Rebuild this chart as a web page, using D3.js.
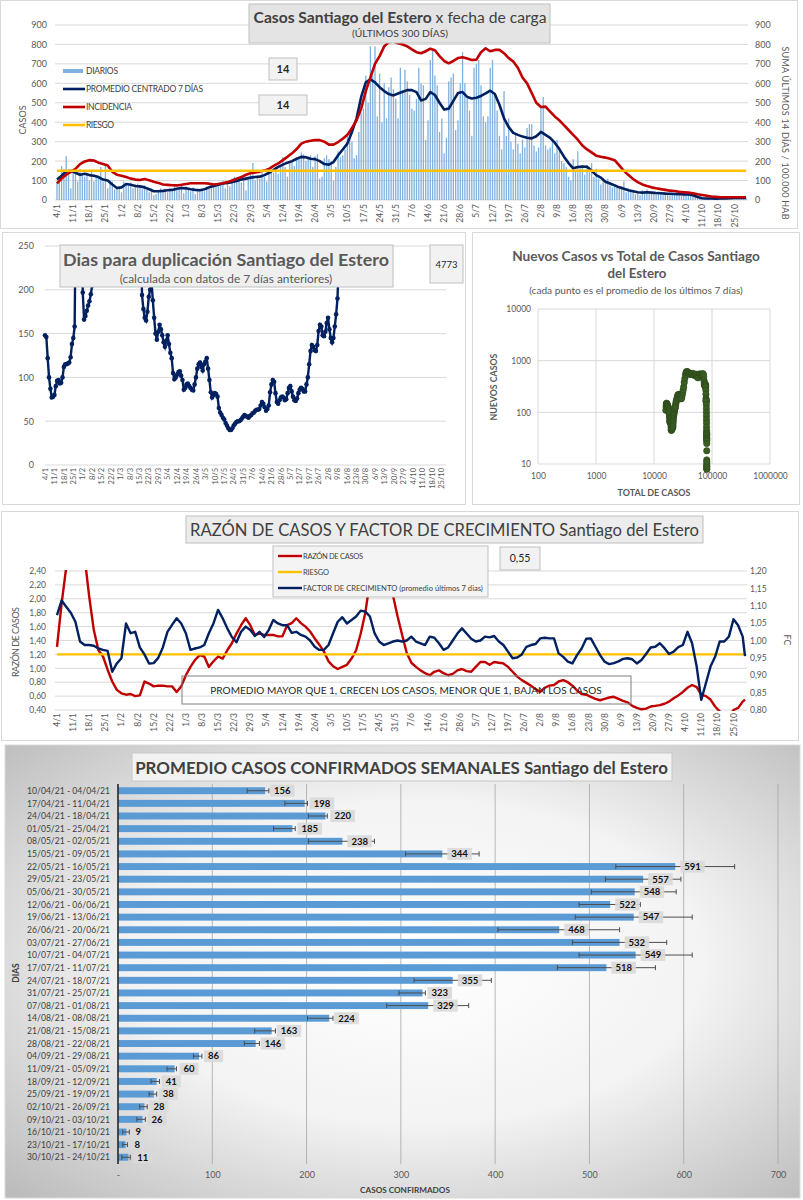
<!DOCTYPE html>
<html>
<head>
<meta charset="utf-8">
<script src="https://cdn.jsdelivr.net/npm/d3@7"></script>
<style>
body { margin: 0; background: #fff; }
svg { display: block; }
</style>
</head>
<body>
<script>
// ---------- data ----------
const weekLabels = ['4/1','11/1','18/1','25/1','1/2','8/2','15/2','22/2','1/3','8/3','15/3','22/3','29/3','5/4','12/4','19/4','26/4','3/5','10/5','17/5','24/5','31/5','7/6','14/6','21/6','28/6','5/7','12/7','19/7','26/7','2/8','9/8','16/8','23/8','30/8','6/9','13/9','20/9','27/9','4/10','11/10','18/10','25/10'];

// daily cases, day 0 = 4/1
const daily = [
  95,110,175,160,225,130,60, 150,140,95,160,130,120,140, 100,155,95,115,120,170,95,
  180,60,100,95,55,65,70, 40,95,85,75,90,60,80, 85,70,55,75,60,40,60,
  25,30,50,60,45,55,40, 60,45,70,50,55,75,35, 70,60,45,65,30,55,50,
  50,45,70,60,75,80,85, 90,75,100,60,95,70,110, 120,95,105,90,115,50,105,
  130,190,100,125,110,140,120, 95,160,150,140,170,135,180, 220,170,120,190,200,175,210,
  215,245,235,200,215,230,170, 225,235,110,120,215,230,210, 200,100,170,250,220,230,260,
  340,345,300,215,230,350,450, 470,640,500,790,640,790,430, 650,400,600,420,580,630,570,
  520,420,680,560,670,610,540, 470,460,520,680,600,590,310, 410,720,770,640,590,350,420,
  240,320,610,630,650,360,410, 600,760,600,520,460,330,680, 700,720,590,430,400,430,680,
  720,550,460,330,260,560,330, 420,300,260,340,290,240,310, 270,370,390,390,280,250,270,
  480,530,280,260,270,300,240, 310,250,200,190,170,120,100, 210,150,250,170,180,130,180,
  170,190,120,160,110,80,100, 90,110,75,65,80,70,60, 70,95,40,60,45,50,30,
  35,25,50,45,55,40,35, 40,30,45,35,25,40,35, 35,30,25,40,30,20,35,
  30,35,25,20,15,10,8, 10,8,6,12,5,9,7, 8,10,6,9,7,11,8,
  12,9,14,10,11,13
];

// days at which the line series are read (every 2 days + last day)
const lineDays = [...d3.range(0, 300, 2), 299];

const promedio7 = [
  105,125,148,150,140,130,135,128,125,118,
  105,100,80,62,65,82,78,72,70,65,
  55,45,45,47,50,52,58,62,60,55,
  52,50,55,65,72,78,85,88,92,98,
  105,110,115,118,120,128,140,155,170,182,
  192,200,212,222,220,212,210,200,185,182,
  195,230,260,290,350,420,530,605,620,605,
  580,560,545,538,548,557,565,565,555,512,
  520,555,540,500,465,470,510,550,555,530,
  522,526,535,548,562,545,490,420,375,345,
  335,326,320,317,328,350,335,320,295,262,
  223,190,163,170,172,171,150,128,115,94,
  85,75,65,58,50,45,40,38,40,38,
  36,35,33,32,31,30,29,28,24,15,
  9,8,8,7,8,8,9,10,11,11,
  11
];

const incidencia = [
  85,110,130,145,160,185,198,205,203,192,
  185,178,145,130,125,118,110,105,103,108,
  102,94,88,80,78,76,75,78,82,86,
  86,86,86,84,80,82,86,92,100,110,
  118,130,138,142,146,152,160,175,188,205,
  222,240,262,290,300,305,308,308,300,285,
  285,298,315,335,370,410,470,560,630,700,
  740,790,812,815,806,800,790,775,760,755,
  765,778,770,740,715,703,715,730,734,728,
  720,722,760,780,765,772,772,755,730,712,
  680,630,600,550,500,478,480,455,430,410,
  385,360,335,310,280,260,245,228,222,218,
  212,205,178,150,128,108,92,80,72,65,
  60,56,52,48,46,42,40,38,35,30,
  26,22,18,16,14,14,14,14,14,14,
  14
];
const riesgoCasos = 150;
const casosTicks = [0,100,200,300,400,500,600,700,800,900];

// doubling days, daily from 4/1
const duplicacion = [
  148,146,122,100,87,77,78,80,90,96,
  97,93,94,100,112,115,115,116,117,123,
  138,145,158,320,480,650,520,380,197,166,
  170,176,182,187,195,205,380,520,700,900,
  1200,1500,1800,2100,1900,1700,1500,1300,1100,1000,
  950,900,850,800,760,720,680,640,600,560,
  520,480,450,420,390,360,340,320,300,280,
  265,262,194,178,168,165,175,192,200,210,
  188,168,150,143,152,160,155,148,140,135,
  142,148,138,128,122,105,98,100,103,106,
  107,102,97,86,88,92,93,90,88,86,
  85,92,100,110,115,117,112,108,115,118,
  122,110,97,83,77,80,82,81,78,65,
  60,57,54,52,48,45,42,40,40,42,
  45,47,49,50,50,51,53,55,57,56,
  55,54,56,57,59,60,62,63,63,64,
  68,72,70,66,62,64,68,83,92,97,
  95,82,72,70,74,77,78,77,74,75,
  82,88,90,84,78,74,73,76,82,86,
  88,87,84,84,92,100,115,130,137,135,
  131,130,137,153,160,158,148,147,152,162,
  168,155,145,140,145,158,172,190,232,4773
];
const dupTicks = [0,50,100,150,200,250];

// scatter: total cases vs new cases (7-day mean)
const scatterTotal = [
  16000,16150,16300,16450,16600,16750,16900,17050,17200,17350,17500,17650,17800,17950,18100,18250,18400,18550,18700,18800,18900,19000,19100,19200,19300,19400,
  19500,19600,19700,19800,19900,20000,20100,20200,20300,20400,20500,20600,20700,20800,
  20900,21000,21100,21200,21300,21400,21550,21700,21850,22000,22200,22400,22600,22800,
  23000,23250,23500,23800,24100,24400,24800,25200,25600,26000,26500,27000,27500,28000,28500,29000,29500,30000,30600,31200,
  31800,32500,33200,34000,34800,35700,36600,37600,38600,39600,40600,41600,42600,
  44000,45500,47000,48500,50000,51500,53000,54500,56000,57500,59000,
  60500,62000,63500,65000,66500,68000,69500,70700,71800,
  72700,73500,74200,74800,75400,76000,76600,77100,77500,77900,78300,78600,78900,79100,79300,79500,79700,
  79900,80050,80200,80300,80400,80500,80580,80650,80720,80780,80840,80900,
  80950,81000,81050,81100,81150,81180,81200,81220,81240,81260,81280,81300,81320
];
const scatterNew = [
  110,128,142,150,148,143,140,138,134,130,126,122,116,110,104,98,90,80,70,64,66,74,80,76,72,68,
  64,58,52,47,45,45,47,49,51,54,58,62,60,56,
  52,50,52,56,62,68,75,82,88,92,98,105,112,117,
  120,126,135,148,160,170,182,195,208,218,222,220,212,205,195,185,183,190,215,240,
  270,310,380,450,530,590,615,610,595,575,560,548,540,
  548,560,565,540,515,535,550,520,480,465,500,
  545,555,535,522,530,548,560,545,490,
  420,375,345,335,325,320,330,350,330,310,270,225,185,160,168,172,165,
  140,118,100,85,72,62,52,45,40,38,38,36,
  33,31,30,28,25,18,12,9,8,8,9,10,11
];
const scatterXTicks = [100,1000,10000,100000,1000000];
const scatterYTicks = [10,100,1000,10000];

// case ratio and growth factor, same days as lineDays
const razon = [
  1.31,1.93,2.45,3.2,3.6,3.1,2.6,2.03,1.55,1.26,
  1.17,0.98,0.81,0.69,0.64,0.62,0.63,0.60,0.61,0.81,
  0.78,0.74,0.75,0.75,0.74,0.74,0.66,0.74,0.90,1.02,
  1.12,1.19,1.17,1.02,1.10,1.17,1.14,1.26,1.36,1.50,
  1.62,1.72,1.62,1.48,1.50,1.48,1.48,1.48,1.46,1.46,
  1.62,1.65,1.72,1.65,1.60,1.53,1.43,1.34,1.24,1.10,
  1.03,0.99,1.02,1.05,1.14,1.26,1.50,1.80,2.25,2.65,
  2.85,2.8,2.45,2.05,1.75,1.48,1.22,1.08,1.02,0.97,
  0.93,0.90,0.95,0.97,0.93,0.90,0.92,0.97,0.99,0.96,
  0.95,1.02,1.09,1.09,1.05,1.09,1.08,1.07,1.02,0.95,
  0.88,0.83,0.79,0.75,0.70,0.66,0.72,0.75,0.76,0.81,
  0.83,0.80,0.75,0.68,0.63,0.62,0.59,0.56,0.54,0.56,
  0.58,0.59,0.56,0.53,0.51,0.46,0.43,0.41,0.42,0.45,
  0.46,0.47,0.49,0.52,0.57,0.61,0.66,0.72,0.76,0.73,
  0.62,0.60,0.55,0.45,0.38,0.32,0.30,0.40,0.43,0.52,
  0.55
];
const factor = [
  1.073,1.115,1.097,1.08,1.054,0.997,0.987,0.987,0.985,0.977,
  0.973,0.97,0.91,0.934,0.949,1.049,1.021,1.025,0.98,0.96,
  0.934,0.935,0.95,0.98,1.025,1.045,1.064,1.049,1.021,0.973,
  0.977,0.98,0.987,1.021,1.049,1.088,1.064,1.035,1.01,0.995,
  1.025,1.04,1.03,1.013,1.025,1.01,1.03,1.059,1.049,1.044,
  1.044,1.022,1.025,1.016,1.011,1.0,0.982,0.973,0.973,0.987,
  1.021,1.054,1.067,1.049,1.059,1.069,1.086,1.083,1.069,1.021,
  0.997,0.987,0.992,0.997,1.0,0.997,1.0,1.011,0.997,0.992,
  0.987,1.011,1.008,0.992,0.973,0.98,1.0,1.02,1.035,1.02,
  1.005,0.997,1.0,1.011,1.009,1.013,0.997,0.987,0.968,0.949,
  0.951,0.96,0.982,0.987,0.99,1.006,1.008,1.006,1.006,0.963,
  0.953,0.939,0.934,0.958,0.977,1.005,1.006,0.982,0.958,0.939,
  0.932,0.935,0.94,0.947,0.949,0.946,0.934,0.944,0.961,0.98,
  0.982,0.992,0.978,0.961,0.968,0.981,0.987,1.025,0.992,0.925,
  0.829,0.877,0.925,0.953,0.997,0.997,1.011,1.061,1.044,1.011,
  0.955
];
const riesgoRazon = 1.2;
const razonTicks = [0.4,0.6,0.8,1.0,1.2,1.4,1.6,1.8,2.0,2.2,2.4];
const fcTicks = [0.8,0.85,0.9,0.95,1.0,1.05,1.1,1.15,1.2];

// weekly averages
const weekCats = ['10/04/21 - 04/04/21','17/04/21 - 11/04/21','24/04/21 - 18/04/21','01/05/21 - 25/04/21','08/05/21 - 02/05/21',
  '15/05/21 - 09/05/21','22/05/21 - 16/05/21','29/05/21 - 23/05/21','05/06/21 - 30/05/21','12/06/21 - 06/06/21',
  '19/06/21 - 13/06/21','26/06/21 - 20/06/21','03/07/21 - 27/06/21','10/07/21 - 04/07/21','17/07/21 - 11/07/21',
  '24/07/21 - 18/07/21','31/07/21 - 25/07/21','07/08/21 - 01/08/21','14/08/21 - 08/08/21','21/08/21 - 15/08/21',
  '28/08/21 - 22/08/21','04/09/21 - 29/08/21','11/09/21 - 05/09/21','18/09/21 - 12/09/21','25/09/21 - 19/09/21',
  '02/10/21 - 26/09/21','09/10/21 - 03/10/21','16/10/21 - 10/10/21','23/10/21 - 17/10/21','30/10/21 - 24/10/21'];
const weekVals = [156,198,220,185,238,344,591,557,548,522,547,468,532,549,518,355,323,329,224,163,146,86,60,41,38,28,26,9,8,11];
const errLo = [137,177,202,165,202,305,528,517,502,489,485,403,482,489,466,314,298,285,201,145,134,80,52,35,33,23,20,5,5,4];
const errHi = [160,201,222,188,272,383,654,597,592,554,609,532,582,609,570,396,326,372,228,167,150,89,62,44,41,31,29,12,10,13];
const barTicks = [0,100,200,300,400,500,600,700];

// ---------- helpers ----------
const FONT = "Lato, 'Open Sans', 'Liberation Sans', sans-serif";
const NAVY = '#002060', RED = '#c00000', GOLD = '#ffc000', GRID = '#d9d9d9', TXT = '#595959';

const svg = d3.select('body').append('svg')
  .attr('width', 803).attr('height', 1200)
  .attr('font-family', FONT);
svg.append('rect').attr('width', 803).attr('height', 1200).attr('fill', '#fff');
const defs = svg.append('defs');

function fitSize(t, w) {
  const len = t.node().getComputedTextLength();
  const fs = parseFloat(t.attr('font-size'));
  t.attr('font-size', fs * w / len);
  return t;
}

function text(g, x, y, s, size, o = {}) {
  const t = g.append('text').attr('x', x).attr('y', y)
    .attr('font-size', size)
    .attr('fill', o.fill || '#404040')
    .attr('text-anchor', o.anchor || 'start')
    .attr('font-weight', o.weight || 'normal')
    .text(s);
  if (o.rotate) t.attr('transform', `rotate(${o.rotate},${x},${y})`);
  if (o.fit) fitSize(t, o.fit);
  if (o.len) t.attr('textLength', o.len).attr('lengthAdjust', 'spacing');
  return t;
}

function box(g, x, y, w, h, fill, stroke) {
  return g.append('rect').attr('x', x).attr('y', y).attr('width', w).attr('height', h)
    .attr('fill', fill || '#f2f2f2').attr('stroke', stroke || '#bfbfbf');
}

function hGrid(g, scale, ticks, xa, xb, color) {
  g.append('g').selectAll('line').data(ticks).join('line')
    .attr('x1', xa).attr('x2', xb)
    .attr('y1', d => scale(d)).attr('y2', d => scale(d))
    .attr('stroke', color || GRID);
}

function axisAt(g, axis, tx, ty, size) {
  const a = g.append('g').attr('transform', `translate(${tx},${ty})`)
    .call(axis.tickSizeOuter(0));
  a.select('.domain').remove();
  a.selectAll('line').remove();
  a.attr('font-family', FONT).attr('font-size', size);
  a.selectAll('text').attr('fill', TXT);
  return a;
}

function dateLabels(g, scale, yTop, size) {
  g.append('g').selectAll('text').data(weekLabels).join('text')
    .attr('transform', (d, i) => `translate(${scale(i * 7) + size * 0.36},${yTop}) rotate(-90)`)
    .attr('text-anchor', 'end')
    .attr('font-size', size)
    .attr('fill', TXT)
    .text(d => d);
}

function clip(id, x, y, w, h) {
  defs.append('clipPath').attr('id', id).append('rect')
    .attr('x', x).attr('y', y).attr('width', w).attr('height', h);
  return `url(#${id})`;
}

const comma = f => d => d3.format(f)(d).replace('.', ',');

// ---------- panel 1: casos diarios ----------
const g1 = svg.append('g');
g1.append('rect').attr('x', 0.5).attr('y', 0.5).attr('width', 797).attr('height', 228)
  .attr('fill', '#fff').attr('stroke', GRID);

const x1 = d3.scaleLinear().domain([0, 299]).range([57, 746]);
const y1 = d3.scaleLinear().domain([0, 900]).range([200, 25]);

hGrid(g1, y1, casosTicks, 55, 748);
axisAt(g1, d3.axisLeft(y1).tickValues(casosTicks).tickSize(0).tickPadding(0), 47, 0, 9);
axisAt(g1, d3.axisRight(y1).tickValues(casosTicks).tickSize(0).tickPadding(0), 755, 0, 9);

g1.append('g').selectAll('rect').data(daily).join('rect')
  .attr('x', (d, i) => x1(i) - 0.65)
  .attr('width', 1.3)
  .attr('y', d => y1(d))
  .attr('height', d => y1(0) - y1(d))
  .attr('fill', '#7fb0de');

const lineTop = d3.line().x((d, i) => x1(lineDays[i])).y(d => y1(d));
g1.append('path').attr('d', lineTop(promedio7)).attr('fill', 'none')
  .attr('stroke', NAVY).attr('stroke-width', 2.6).attr('stroke-linejoin', 'round');
g1.append('path').attr('d', lineTop(incidencia)).attr('fill', 'none')
  .attr('stroke', RED).attr('stroke-width', 2.6).attr('stroke-linejoin', 'round');
g1.append('line').attr('x1', x1(0)).attr('x2', x1(299))
  .attr('y1', y1(riesgoCasos)).attr('y2', y1(riesgoCasos))
  .attr('stroke', GOLD).attr('stroke-width', 2.5);

dateLabels(g1, x1, 204, 8.5);

text(g1, 26, 120, 'CASOS', 9, { anchor: 'middle', rotate: -90, fill: TXT });
text(g1, 782, 133, 'SUMA  ÚLTIMOS 14 DÍAS / 100.000 HAB', 9, { anchor: 'middle', rotate: 90, fill: TXT, len: 173 });

// legend
const leg1 = g1.append('g');
leg1.append('rect').attr('x', 63).attr('y', 69).attr('width', 20).attr('height', 4).attr('fill', '#7fb0de');
[[89, NAVY], [107, RED], [125, GOLD]].forEach(([y, c]) =>
  leg1.append('line').attr('x1', 63).attr('x2', 85).attr('y1', y).attr('y2', y)
    .attr('stroke', c).attr('stroke-width', 2.6));
text(leg1, 86, 74, 'DIARIOS', 8.5, { len: 32 });
text(leg1, 86, 92, 'PROMEDIO CENTRADO 7 DÍAS', 8.5, { len: 117 });
text(leg1, 86, 110, 'INCIDENCIA', 8.5, { len: 46 });
text(leg1, 86, 128, 'RIESGO', 8.5, { len: 28 });

box(g1, 269, 58, 28, 22);
text(g1, 283, 73, '14', 11, { anchor: 'middle', weight: 'bold', fill: '#262626' });
box(g1, 259, 95, 48, 20);
text(g1, 283, 109, '14', 11, { anchor: 'middle', weight: 'bold', fill: '#262626' });

box(g1, 249, 4, 301, 39, '#e4e4e4');
const t1 = g1.append('text').attr('x', 400).attr('y', 23).attr('text-anchor', 'middle')
  .attr('font-size', 17).attr('fill', '#404040');
t1.append('tspan').attr('font-weight', 'bold').text('Casos Santiago del Estero');
t1.append('tspan').text(' x fecha de carga');
fitSize(t1, 293);
text(g1, 400, 37, '(ÚLTIMOS 300 DÍAS)', 10, { anchor: 'middle', fit: 96 });

// ---------- panel 2: dias para duplicacion ----------
const g2 = svg.append('g');
g2.append('rect').attr('x', 2.5).attr('y', 232.5).attr('width', 463).attr('height', 272)
  .attr('fill', '#fff').attr('stroke', GRID);
const x2 = d3.scaleLinear().domain([0, 299]).range([45, 448]);
const y2 = d3.scaleLinear().domain([0, 250]).range([465, 246]);
hGrid(g2, y2, dupTicks, 45, 446);
axisAt(g2, d3.axisLeft(y2).tickValues(dupTicks).tickSize(0).tickPadding(0), 34, 0, 9);

const dupG = g2.append('g').attr('clip-path', clip('c2', 38, 246, 414, 225));
dupG.append('path')
  .attr('d', d3.line().x((d, i) => x2(i)).y(d => y2(d))(duplicacion))
  .attr('fill', 'none').attr('stroke', NAVY).attr('stroke-width', 2.4);
dupG.selectAll('circle').data(duplicacion).join('circle')
  .attr('cx', (d, i) => x2(i)).attr('cy', d => y2(d)).attr('r', 2.3).attr('fill', NAVY);

dateLabels(g2, x2, 468, 7.5);

box(g2, 60, 245, 333, 42, '#efefef');
text(g2, 226, 266, 'Dias para duplicación Santiago del Estero', 17, { anchor: 'middle', weight: 'bold', fit: 326, fill: '#595959' });
text(g2, 226, 283, '(calculada con datos de 7 días anteriores)', 10, { anchor: 'middle', fit: 213, fill: '#595959' });
box(g2, 430, 245, 33, 38);
text(g2, 446.5, 268, '4773', 9.5, { anchor: 'middle', fill: '#262626' });

// ---------- panel 3: scatter ----------
const g3 = svg.append('g');
g3.append('rect').attr('x', 472.5).attr('y', 232.5).attr('width', 327).attr('height', 272)
  .attr('fill', '#fff').attr('stroke', GRID);
const xs = d3.scaleLog().domain([100, 1e6]).range([538, 770]);
const ys = d3.scaleLog().domain([10, 10000]).range([464, 309]);
hGrid(g3, ys, scatterYTicks, 538, 770);
g3.append('g').selectAll('line').data(scatterXTicks).join('line')
  .attr('x1', d => xs(d)).attr('x2', d => xs(d)).attr('y1', 309).attr('y2', 464)
  .attr('stroke', GRID);
axisAt(g3, d3.axisBottom(xs).tickValues(scatterXTicks).tickFormat(d3.format('d')).tickSize(0).tickPadding(3), 0, 470, 8.5);
axisAt(g3, d3.axisLeft(ys).tickValues(scatterYTicks).tickFormat(d3.format('d')).tickSize(0).tickPadding(0), 531, 0, 8.5);

g3.append('g').selectAll('circle').data(scatterTotal).join('circle')
  .attr('cx', d => xs(d)).attr('cy', (d, i) => ys(scatterNew[i])).attr('r', 3.2)
  .attr('fill', '#3b5e24').attr('stroke', '#2c4619').attr('stroke-width', 0.6);

text(g3, 636, 261, 'Nuevos Casos vs Total de Casos Santiago', 13, { anchor: 'middle', weight: 'bold', fit: 248, fill: '#595959' });
text(g3, 637, 278, 'del Estero', 13, { anchor: 'middle', weight: 'bold', fit: 59, fill: '#595959' });
text(g3, 636, 294, '(cada punto es el promedio de los últimos 7 días)', 8.5, { anchor: 'middle', fit: 214, fill: '#595959' });
text(g3, 654, 496, 'TOTAL DE CASOS', 8.5, { anchor: 'middle', weight: 'bold', fill: TXT, fit: 73 });
text(g3, 497, 387, 'NUEVOS CASOS', 8.5, { anchor: 'middle', weight: 'bold', fill: TXT, rotate: -90, fit: 67 });

// ---------- panel 4: razon de casos y factor de crecimiento ----------
const g4 = svg.append('g');
g4.append('rect').attr('x', 1.5).attr('y', 511.5).attr('width', 797).attr('height', 229)
  .attr('fill', '#fff').attr('stroke', GRID);
const x4 = d3.scaleLinear().domain([0, 299]).range([57, 745]);
const yl = d3.scaleLinear().domain([0.4, 2.4]).range([710, 571]);
const yr = d3.scaleLinear().domain([0.8, 1.2]).range([710, 571]);
hGrid(g4, yl, razonTicks, 55, 747);
axisAt(g4, d3.axisLeft(yl).tickValues(razonTicks).tickFormat(comma('.2f')).tickSize(0).tickPadding(0), 46, 0, 8.5);
axisAt(g4, d3.axisRight(yr).tickValues(fcTicks).tickFormat(comma('.2f')).tickSize(0).tickPadding(0), 750, 0, 8.5);

const c4 = clip('c4', 55, 570, 692, 141);
const pg4 = g4.append('g').attr('clip-path', c4);
pg4.append('path')
  .attr('d', d3.line().x((d, i) => x4(lineDays[i])).y(d => yl(d))(razon))
  .attr('fill', 'none').attr('stroke', RED).attr('stroke-width', 2.4).attr('stroke-linejoin', 'round');
pg4.append('line').attr('x1', x4(0)).attr('x2', x4(299))
  .attr('y1', yl(riesgoRazon)).attr('y2', yl(riesgoRazon))
  .attr('stroke', GOLD).attr('stroke-width', 2.4);
pg4.append('path')
  .attr('d', d3.line().x((d, i) => x4(lineDays[i])).y(d => yr(d))(factor))
  .attr('fill', 'none').attr('stroke', NAVY).attr('stroke-width', 2.4).attr('stroke-linejoin', 'round');

dateLabels(g4, x4, 713, 8.5);
text(g4, 19, 642, 'RAZÓN DE CASOS', 9, { anchor: 'middle', rotate: -90, fill: TXT, len: 70 });
text(g4, 784, 640, 'FC', 9, { anchor: 'middle', rotate: 90, fill: TXT });

box(g4, 186, 516, 517, 27, '#ececec');
text(g4, 444.5, 536, 'RAZÓN DE CASOS Y FACTOR DE CRECIMIENTO Santiago del Estero', 19, { anchor: 'middle', fit: 509, fill: '#404040' });

const leg4 = g4.append('g');
box(leg4, 273, 546, 215, 51, '#f4f4f4');
[[556, RED], [572, GOLD], [588, NAVY]].forEach(([y, c]) =>
  leg4.append('line').attr('x1', 278).attr('x2', 302).attr('y1', y).attr('y2', y)
    .attr('stroke', c).attr('stroke-width', 2.4));
text(leg4, 303, 559, 'RAZÓN DE CASOS', 7.5, { len: 60 });
text(leg4, 303, 575, 'RIESGO', 7.5, { len: 26 });
text(leg4, 303, 591, 'FACTOR DE CRECIMIENTO (promedio últimos 7 dias)', 7.5, { fit: 180 });

box(g4, 500, 547, 40, 23);
text(g4, 520, 562, '0,55', 10.5, { anchor: 'middle', fill: '#262626' });

g4.append('rect').attr('x', 182).attr('y', 676).attr('width', 449).attr('height', 28)
  .attr('fill', 'none').attr('stroke', '#7f7f7f');
text(g4, 406, 694, 'PROMEDIO MAYOR QUE 1, CRECEN LOS CASOS, MENOR QUE 1, BAJAN LOS CASOS', 12, { anchor: 'middle', fit: 392, fill: '#262626' });

// ---------- panel 5: promedio semanal ----------
const g5 = svg.append('g');
const rg = defs.append('radialGradient').attr('id', 'bg5').attr('cx', '52%').attr('cy', '48%').attr('r', '72%');
rg.append('stop').attr('offset', '0%').attr('stop-color', '#ffffff');
rg.append('stop').attr('offset', '50%').attr('stop-color', '#f3f3f3');
rg.append('stop').attr('offset', '100%').attr('stop-color', '#bcbcbc');
g5.append('rect').attr('x', 5).attr('y', 745).attr('width', 795).attr('height', 453)
  .attr('fill', 'url(#bg5)').attr('stroke', GRID);

const xb = d3.scaleLinear().domain([0, 700]).range([118, 778]);
const yb = d3.scaleBand().domain(weekCats).range([784.4, 1163.6]).paddingInner(0.45).paddingOuter(0.225);

g5.append('g').selectAll('line').data(barTicks.slice(1)).join('line')
  .attr('x1', d => xb(d)).attr('x2', d => xb(d)).attr('y1', 784).attr('y2', 1164)
  .attr('stroke', '#a6a6a6').attr('stroke-width', 0.8);

g5.append('g').selectAll('rect').data(weekVals).join('rect')
  .attr('x', xb(0)).attr('y', (d, i) => yb(weekCats[i]))
  .attr('width', d => xb(d) - xb(0)).attr('height', yb.bandwidth())
  .attr('fill', '#5b9bd5');

const eb = g5.append('g').attr('stroke', '#4d4d4d').attr('stroke-width', 1);
weekVals.forEach((v, i) => {
  const cy = yb(weekCats[i]) + yb.bandwidth() / 2;
  eb.append('line').attr('x1', xb(errLo[i])).attr('x2', xb(errHi[i])).attr('y1', cy).attr('y2', cy);
  [errLo[i], errHi[i]].forEach(e =>
    eb.append('line').attr('x1', xb(e)).attr('x2', xb(e)).attr('y1', cy - 2.5).attr('y2', cy + 2.5));
});

const lab = g5.append('g');
weekVals.forEach((v, i) => {
  const cy = yb(weekCats[i]) + yb.bandwidth() / 2;
  const bx = lab.append('rect').attr('fill', '#d9d9d9').attr('opacity', 0.9);
  const t = lab.append('text').attr('x', xb(v) + 9).attr('y', cy + 3.3)
    .attr('font-size', 9.5).attr('font-weight', 'bold').attr('fill', '#111').text(v);
  const w = t.node().getComputedTextLength();
  bx.attr('x', xb(v) + 5).attr('y', cy - 6).attr('width', w + 8).attr('height', 12);
});

g5.append('line').attr('x1', xb(0)).attr('x2', xb(0)).attr('y1', 784).attr('y2', 1164)
  .attr('stroke', '#262626').attr('stroke-width', 1.6);

g5.append('g').selectAll('text').data(weekCats).join('text')
  .attr('x', 110).attr('y', d => yb(d) + yb.bandwidth() / 2 + 3.2)
  .attr('text-anchor', 'end').attr('font-size', 8.6).attr('fill', '#404040')
  .text(d => d);

axisAt(g5, d3.axisBottom(xb).tickValues(barTicks).tickFormat(d => d === 0 ? '-' : d).tickSize(0).tickPadding(3), 0, 1169, 9);
text(g5, 405, 1193, 'CASOS CONFIRMADOS', 8.5, { anchor: 'middle', weight: 'bold', fill: '#404040', fit: 90 });
text(g5, 19, 973, 'DIAS', 8.5, { anchor: 'middle', weight: 'bold', fill: '#404040', rotate: -90 });

box(g5, 132, 753, 540, 28, '#f2f2f2', '#c8c8c8');
text(g5, 401.5, 774, 'PROMEDIO CASOS CONFIRMADOS SEMANALES Santiago del Estero', 18, { anchor: 'middle', weight: 'bold', fit: 533, fill: '#404040' });
</script>
</body>
</html>
